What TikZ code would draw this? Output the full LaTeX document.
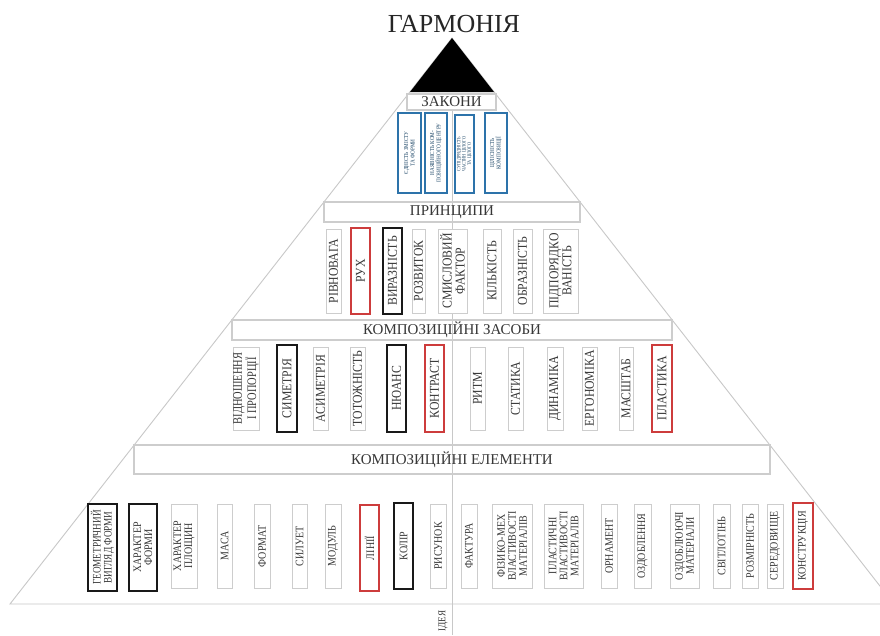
\documentclass[tikz,border=0pt]{standalone}
\usepackage{fontspec}
\setmainfont{Liberation Serif}
\newfontfamily\nf[FakeStretch=0.87]{Liberation Serif}
\newfontfamily\nnf[FakeStretch=0.8]{Liberation Serif}
\definecolor{pyrgrey}{RGB}{200,200,200}
\definecolor{boxgrey}{RGB}{205,205,205}
\definecolor{txtgrey}{RGB}{55,55,55}
\definecolor{redc}{RGB}{205,60,60}
\definecolor{bluec}{RGB}{45,115,170}
\newcommand\vb[7]{%
  \pgfmathsetmacro\bcx{(#3+#4)/2}\pgfmathsetmacro\bcy{(#5+#6)/2}%
  \pgfmathsetmacro\bww{#6-#5}\pgfmathsetmacro\bhh{#4-#3}%
  \node[#2, rotate=90, minimum width=\bww pt, minimum height=\bhh pt] (#1) at (\bcx,\bcy) {#7};}
\begin{document}
\begin{tikzpicture}[x=1pt,y=-1pt,
  pyr/.style={draw=pyrgrey, line width=0.9pt},
  band/.style={draw=boxgrey, line width=1.1pt, inner sep=0, text=txtgrey, font=\fontsize{15}{15}\selectfont},
  vbase/.style={inner sep=0, align=center, fill=white, text=txtgrey},
  gbox/.style={vbase, draw=boxgrey, line width=0.8pt},
  rbox/.style={vbase, draw=redc, line width=2.4pt},
  kbox/.style={vbase, draw=black!90, line width=2.4pt},
  lbox/.style={vbase, draw=bluec, line width=2.2pt, text=bluec!60!black},
  fp/.style={font=\nf\fontsize{13.5}{13}\selectfont},
  fpn/.style={font=\nnf\fontsize{13}{12.5}\selectfont},
  fe/.style={font=\nf\fontsize{11.5}{11}\selectfont},
  fen/.style={font=\nnf\fontsize{11.5}{11}\selectfont},
  fl/.style={font=\nf\fontsize{6}{6.5}\selectfont},
]
\useasboundingbox (0,0) rectangle (880,635);
\fill[white] (0,0) rectangle (880,635);
% pyramid outline
\coordinate (apex) at (452,38);
\coordinate (bl) at (10,604);
\coordinate (br) at (894,604);
\begin{scope}
  \clip (0,0) rectangle (880,635);
  \draw[pyr] (bl) -- (apex) -- (br) -- cycle;
\end{scope}
% centre line
\coordinate (ctop) at (452,110);
\coordinate (cbot) at (452,635);
\draw[pyr, line width=0.7pt] (ctop) -- (cbot);
% black top
\coordinate (tl) at (410,92);
\coordinate (tr) at (494,92);
\fill[black] (apex) -- (tl) -- (tr) -- cycle;
% title
\node[anchor=base, text=black!85, font=\fontsize{26}{26}\selectfont] (title) at (454,32) {ГАРМОНІЯ};
% bands
\node[band, fill=white, minimum width=89pt, minimum height=16pt, font=\fontsize{15}{15}\selectfont] (zak) at (451.5,102) {ЗАКОНИ};
\node[band, minimum width=256pt, minimum height=20pt] (princ) at (452,212) {ПРИНЦИПИ};
\node[band, minimum width=440pt, minimum height=20pt] (zas) at (452,330) {КОМПОЗИЦІЙНІ ЗАСОБИ};
\node[band, minimum width=636pt, minimum height=29pt] (elem) at (452,459.5) {КОМПОЗИЦІЙНІ ЕЛЕМЕНТИ};
% laws
\vb{l1}{lbox,fl}{398}{421}{113}{193}{ЄДНІСТЬ ЗМІСТУ\\ТА ФОРМИ}
\vb{l2}{lbox,fl}{425}{447}{113}{193}{НАЯВНІСТЬ КОМ-\\ПОЗИЦІЙНОГО ЦЕНТРУ}
\vb{l3}{lbox,font=\nf\fontsize{5}{5.3}\selectfont}{455}{474}{115}{193}{СУПІДРЯДНІСТЬ\\ЧАСТИН ЦІЛОГО\\ТА ЦІЛОГО}
\vb{l4}{lbox,fl}{485}{507}{113}{193}{ЦІЛІСНІСТЬ\\КОМПОЗИЦІЇ}
% principles
\vb{p1}{gbox,fp}{326}{341}{229}{313}{РІВНОВАГА}
\vb{p2}{rbox,fp}{351}{370}{228}{314}{РУХ}
\vb{p3}{kbox,fp}{383}{402}{228}{314}{ВИРАЗНІСТЬ}
\vb{p4}{gbox,fp}{412}{425}{229}{313}{РОЗВИТОК}
\vb{p5}{gbox,fp}{438}{467}{229}{313}{СМИСЛОВИЙ\\ФАКТОР}
\vb{p6}{gbox,fp}{483}{501}{229}{313}{КІЛЬКІСТЬ}
\vb{p7}{gbox,fp}{513}{532}{229}{313}{ОБРАЗНІСТЬ}
\vb{p8}{gbox,fp}{543}{578}{229}{313}{ПІДПОРЯДКО\\ВАНІСТЬ}
% means
\vb{m1}{gbox,fpn}{233}{259}{347}{430}{ВІДНОШЕННЯ\\І ПРОПОРЦІЇ}
\vb{m2}{kbox,fp}{277}{297}{345}{432}{СИМЕТРІЯ}
\vb{m3}{gbox,fp}{313}{328}{347}{430}{АСИМЕТРІЯ}
\vb{m4}{gbox,fp}{350}{365}{347}{430}{ТОТОЖНІСТЬ}
\vb{m5}{kbox,fp}{387}{406}{345}{432}{НЮАНС}
\vb{m6}{rbox,fp}{425}{444}{345}{432}{КОНТРАСТ}
\vb{m7}{gbox,fp}{470}{485}{347}{430}{РИТМ}
\vb{m8}{gbox,fp}{508}{523}{347}{430}{СТАТИКА}
\vb{m9}{gbox,fp}{547}{563}{347}{430}{ДИНАМІКА}
\vb{m10}{gbox,fp}{582}{597}{347}{430}{ЕРГОНОМІКА}
\vb{m11}{gbox,fp}{619}{633}{347}{430}{МАСШТАБ}
\vb{m12}{rbox,fp}{652}{672}{345}{432}{ПЛАСТИКА}
% elements
\vb{e1}{kbox,fen}{88}{117}{504}{591}{ГЕОМЕТРИЧНИЙ\\ВИГЛЯД ФОРМИ}
\vb{e2}{kbox,fe}{129}{157}{504}{591}{ХАРАКТЕР\\ФОРМИ}
\vb{e3}{gbox,fe}{171}{197}{504}{588}{ХАРАКТЕР\\ПЛОЩИН}
\vb{e4}{gbox,fe}{217}{232}{504}{588}{МАСА}
\vb{e5}{gbox,fe}{254}{270}{504}{588}{ФОРМАТ}
\vb{e6}{gbox,fe}{292}{307}{504}{588}{СИЛУЕТ}
\vb{e7}{gbox,fe}{325}{341}{504}{588}{МОДУЛЬ}
\vb{e8}{rbox,fe}{360}{379}{505}{591}{ЛІНІЇ}
\vb{e9}{kbox,fe}{394}{413}{503}{589}{КОЛІР}
\vb{e10}{gbox,fe}{430}{446}{504}{588}{РИСУНОК}
\vb{e11}{gbox,fe}{461}{477}{504}{588}{ФАКТУРА}
\vb{e12}{gbox,fe}{492}{532}{504}{588}{ФІЗИКО-МЕХ\\ВЛАСТИВОСТІ\\МАТЕРІАЛІВ}
\vb{e13}{gbox,fe}{544}{583}{504}{588}{ПЛАСТИЧНІ\\ВЛАСТИВОСТІ\\МАТЕРІАЛІВ}
\vb{e14}{gbox,fe}{601}{617}{504}{588}{ОРНАМЕНТ}
\vb{e15}{gbox,fe}{634}{651}{504}{588}{ОЗДОБЛЕННЯ}
\vb{e16}{gbox,fe}{670}{699}{504}{588}{ОЗДОБЛЮЮЧІ\\МАТЕРІАЛИ}
\vb{e17}{gbox,fe}{713}{730}{504}{588}{СВІТЛОТІНЬ}
\vb{e18}{gbox,fe}{742}{758}{504}{588}{РОЗМІРНІСТЬ}
\vb{e19}{gbox,fe}{767}{783}{504}{588}{СЕРЕДОВИЩЕ}
\vb{e20}{rbox,fe}{793}{813}{503}{589}{КОНСТРУКЦІЯ}
% idea
\node[rotate=90, inner sep=0, text=txtgrey, font=\nf\fontsize{10.5}{10.5}\selectfont] (idea) at (443,621) {ІДЕЯ};
\end{tikzpicture}
\end{document}
